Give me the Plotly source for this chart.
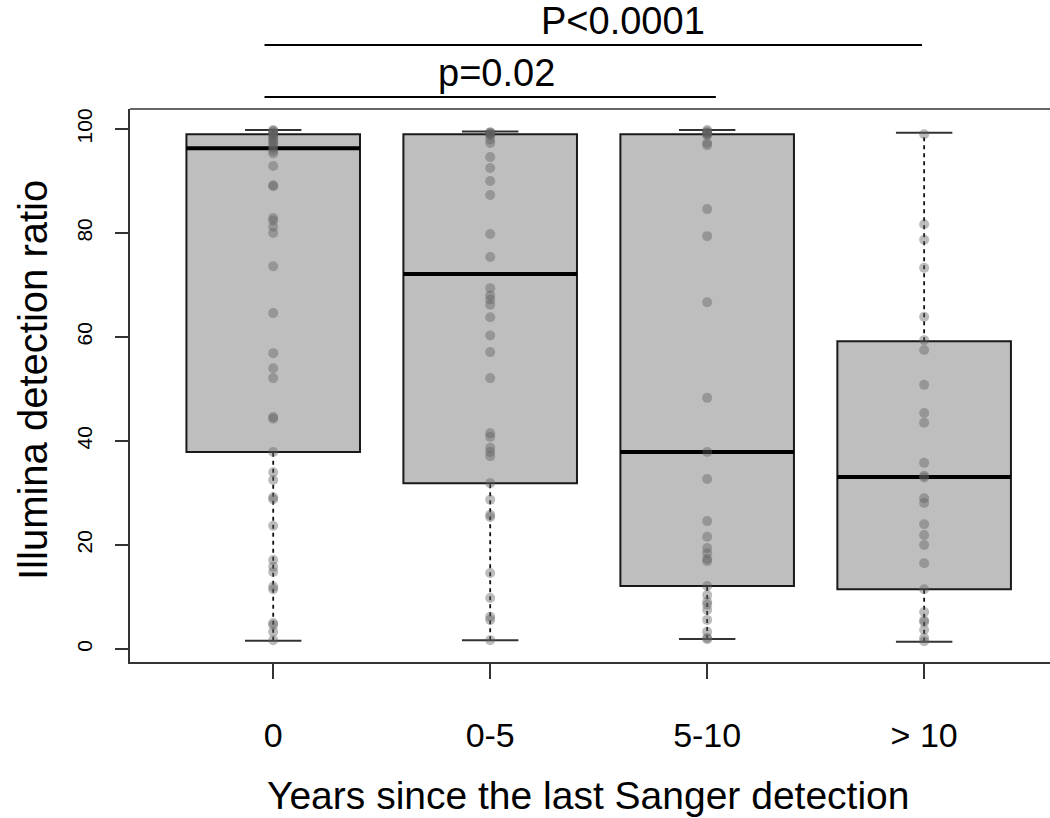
import plotly.graph_objects as go

# ---------------- data ----------------
categories = ["0", "0-5", "5-10", "> 10"]
positions = [1, 2, 3, 4]

# box statistics
whisker_low = [1.6, 1.7, 1.9, 1.4]
q1 = [37.9, 31.9, 12.1, 11.5]
median = [96.3, 72.1, 37.9, 33.1]
q3 = [99.0, 99.0, 99.0, 59.2]
whisker_high = [99.8, 99.5, 99.8, 99.3]

# individual observations
pts_0 = [99.8, 99.6, 99.4, 99.2, 99.0, 98.7, 98.4, 98.0, 97.6, 97.2, 96.8, 96.3,
         95.8, 95.3, 92.9, 89.2, 89.0, 82.9, 82.4, 81.2, 80.0, 73.6, 64.6, 56.9,
         54.0, 52.1, 44.6, 44.3, 37.9, 34.0, 32.5, 29.2, 28.8, 23.7, 17.1, 15.8,
         14.8, 12.0, 11.5, 5.0, 4.6, 3.3, 1.7]
pts_0_5 = [99.4, 99.3, 99.1, 99.0, 98.8, 98.0, 97.3, 94.6, 92.5, 90.0, 87.3, 79.8,
           75.4, 69.4, 68.0, 67.2, 66.2, 63.8, 60.3, 57.1, 52.1, 41.5, 40.8, 38.7,
           37.9, 37.1, 31.9, 28.7, 25.8, 25.4, 14.6, 9.8, 6.2, 5.6, 1.7]
pts_5_10 = [99.8, 99.5, 99.3, 99.2, 99.0, 98.8, 97.3, 96.9, 84.6, 79.4, 66.7, 48.3,
            37.9, 32.7, 24.6, 21.6, 19.4, 18.4, 17.3, 16.9, 12.1, 10.4, 9.1, 8.5,
            7.5, 5.6, 3.3, 2.1, 1.9]
pts_gt10 = [99.0, 81.7, 78.7, 73.3, 63.9, 59.4, 57.5, 50.8, 45.4, 43.5, 35.8, 33.3,
            33.0, 29.0, 28.1, 24.0, 21.9, 20.0, 16.5, 11.5, 7.1, 5.5, 5.2, 3.7,
            2.1, 1.5]
points = [pts_0, pts_0_5, pts_5_10, pts_gt10]

# significance brackets
bracket_labels = ["P<0.0001", "p=0.02"]
bracket_x0 = [0.96, 0.96]
bracket_x1 = [3.99, 3.04]
bracket_text_x = [2.61, 2.03]
bracket_y = [1.1157, 1.0217]  # paper coordinates

y_ticks = [0, 20, 40, 60, 80, 100]

# ---------------- style ----------------
FONT = "Liberation Sans, Arial, sans-serif"
BOX_HALF = 0.4
CAP_HALF = 0.13

fig = go.Figure()
shapes = []

for i, xc in enumerate(positions):
    # box body
    shapes.append(dict(type="rect", xref="x", yref="y",
                       x0=xc - BOX_HALF, x1=xc + BOX_HALF, y0=q1[i], y1=q3[i],
                       fillcolor="#bebebe", line=dict(color="#1a1a1a", width=2),
                       layer="below"))
    # dashed whiskers
    fig.add_trace(go.Scatter(x=[xc, xc], y=[whisker_low[i], q1[i]], mode="lines",
                             line=dict(color="#111", width=1.8, dash="4px,4px"),
                             hoverinfo="skip", showlegend=False))
    fig.add_trace(go.Scatter(x=[xc, xc], y=[q3[i], whisker_high[i]], mode="lines",
                             line=dict(color="#111", width=1.8, dash="4px,4px"),
                             hoverinfo="skip", showlegend=False))
    # caps
    for v in (whisker_low[i], whisker_high[i]):
        fig.add_trace(go.Scatter(x=[xc - CAP_HALF, xc + CAP_HALF], y=[v, v],
                                 mode="lines", line=dict(color="#333", width=2),
                                 hoverinfo="skip", showlegend=False))
    # median
    fig.add_trace(go.Scatter(x=[xc - BOX_HALF, xc + BOX_HALF], y=[median[i], median[i]],
                             mode="lines", line=dict(color="#000", width=4),
                             hoverinfo="skip", showlegend=False))

for i, xc in enumerate(positions):
    fig.add_trace(go.Scatter(x=[xc] * len(points[i]), y=points[i], mode="markers",
                             marker=dict(size=10, color="rgba(95,95,95,0.42)",
                                         line=dict(width=0)),
                             showlegend=False, name=categories[i]))

# top frame line
shapes.append(dict(type="line", xref="paper", yref="paper", x0=0, x1=1, y0=1, y1=1,
                   line=dict(color="#333", width=1.5)))

annotations = []
for lab, x0, x1, tx, yy in zip(bracket_labels, bracket_x0, bracket_x1, bracket_text_x, bracket_y):
    shapes.append(dict(type="line", xref="x", yref="paper", x0=x0, x1=x1, y0=yy, y1=yy,
                       line=dict(color="#000", width=2)))
    annotations.append(dict(text=lab, xref="x", yref="paper", x=tx, y=yy + 0.002,
                            xanchor="center", yanchor="bottom", showarrow=False,
                            font=dict(family=FONT, size=38, color="#000")))

annotations.append(dict(text="Years since the last Sanger detection", xref="paper",
                        yref="paper", x=(588 - 130) / 920, y=(662 - 795) / 553,
                        xanchor="center", yanchor="middle", showarrow=False,
                        font=dict(family=FONT, size=39, color="#000")))
annotations.append(dict(text="Illumina detection ratio", xref="paper", yref="paper",
                        x=(33 - 130) / 920, y=(662 - 380) / 553, textangle=-90,
                        xanchor="center", yanchor="middle", showarrow=False,
                        font=dict(family=FONT, size=40, color="#000")))

fig.update_layout(
    width=1050, height=818,
    margin=dict(l=130, r=0, t=109, b=156),
    paper_bgcolor="white", plot_bgcolor="white",
    shapes=shapes, annotations=annotations,
    showlegend=False,
    xaxis=dict(range=[0.34, 4.58], tickvals=positions, ticktext=categories,
               showgrid=False, zeroline=False, showline=True, linecolor="#333",
               linewidth=1.5, ticks="outside", ticklen=15, tickwidth=1.5,
               tickcolor="#333", ticklabelstandoff=27,
               tickfont=dict(family=FONT, size=34, color="#000")),
    yaxis=dict(range=[-2.5, 103.85], tickvals=y_ticks, showgrid=False, zeroline=False,
               showline=True, linecolor="#333", linewidth=1.5, ticks="outside",
               ticklen=13, tickwidth=1.5, tickcolor="#333", tickangle=-90,
               ticklabelstandoff=15,
               tickfont=dict(family=FONT, size=21, color="#000")),
)

fig.write_html("out.html")
